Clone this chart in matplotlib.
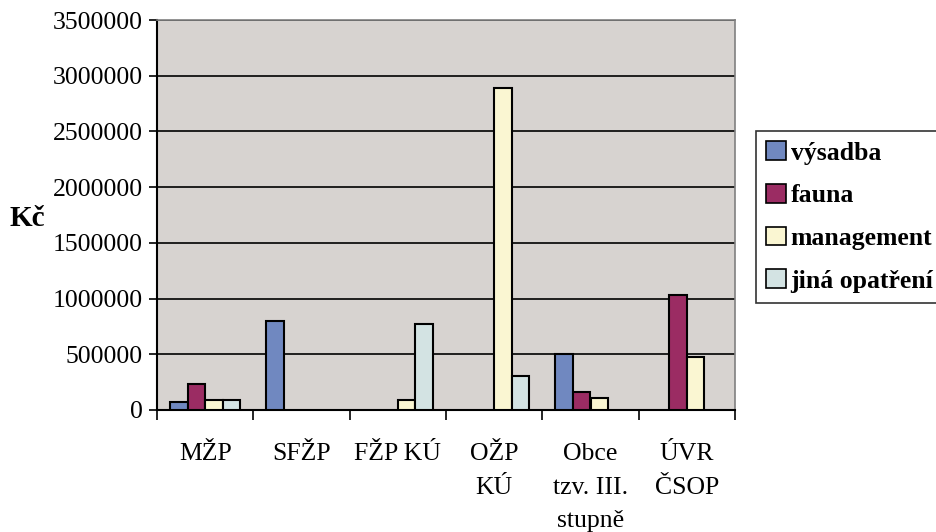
import numpy as np
import matplotlib
matplotlib.use("Agg")
import matplotlib.pyplot as plt
from matplotlib.ticker import FuncFormatter

categories = ["MŽP", "SFŽP", "FŽP KÚ", "OŽP\nKÚ", "Obce\ntzv. III.\nstupně", "ÚVR\nČSOP"]
series = ["výsadba", "fauna", "management", "jiná opatření"]
vysadba = [70000, 800000, 0, 0, 500000, 0]
fauna = [230000, 0, 0, 0, 160000, 1035000]
management = [90000, 0, 90000, 2890000, 110000, 480000]
jina = [90000, 0, 770000, 305000, 0, 0]
colors = ["#7088C0", "#9B2C63", "#FAF6D2", "#D3E3E3"]

plt.rcParams["font.family"] = ["Liberation Serif", "DejaVu Serif"]

fig = plt.figure(figsize=(9.36, 5.32), dpi=100)
ax = fig.add_axes([157 / 936, 1 - 410 / 532, (735 - 157) / 936, 390 / 532])
ax.set_facecolor("#D7D3D0")

x = np.arange(len(categories))
w = 0.182
for i, (name, vals) in enumerate(zip(series, [vysadba, fauna, management, jina])):
    vals = np.array(vals, dtype=float)
    pos = x + (i - 1.5) * w
    keep = vals > 0
    ax.bar(pos[keep], vals[keep], width=w, color=colors[i], edgecolor="black",
           linewidth=1.5, zorder=3)
    ax.bar([np.nan], [np.nan], color=colors[i], edgecolor="black", linewidth=1.2,
           label=name)

ax.set_ylim(0, 3500000)
ax.set_xlim(-0.5, len(categories) - 0.5)
ax.set_yticks(np.arange(0, 3500001, 500000))
ax.yaxis.set_major_formatter(FuncFormatter(lambda v, p: f"{int(v)}"))
ax.yaxis.grid(True, color="black", linewidth=1.2, zorder=1)
ax.set_axisbelow(True)
ax.tick_params(axis="y", labelsize=18.5, length=6, width=1.2, color="black", pad=4)

# category labels centered, tick marks at boundaries
ax.set_xticks(np.arange(-0.5, len(categories), 1.0))
ax.set_xticklabels([])
ax.tick_params(axis="x", length=7, width=1.2)
for xi, lab in zip(x, categories):
    ax.text(xi, -0.085, lab, transform=ax.get_xaxis_transform(), ha="center",
            va="top", fontsize=18.5, linespacing=1.68)

for s in ["left", "bottom"]:
    ax.spines[s].set_linewidth(1.5)
    ax.spines[s].set_color("black")
for s in ["top", "right"]:
    ax.spines[s].set_color("#808080")
    ax.spines[s].set_linewidth(1.2)

fig.text(27 / 936, 1 - 218 / 532, "Kč", fontsize=21, fontweight="bold",
         ha="center", va="center")

leg = ax.legend(loc="center left", bbox_to_anchor=(756 / 936, 1 - 217 / 532),
                bbox_transform=fig.transFigure, frameon=True, fancybox=False,
                edgecolor="black", prop={"weight": "bold", "size": 18.5},
                handlelength=0.75, handleheight=0.75, handletextpad=0.2,
                labelspacing=0.75, borderpad=0.4, borderaxespad=0)
leg.get_frame().set_linewidth(1.2)

fig.savefig("out.png", dpi=100)
